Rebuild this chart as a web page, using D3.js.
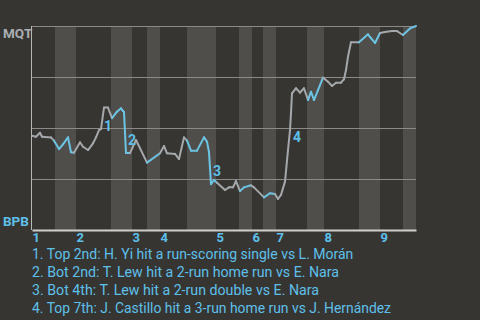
<!DOCTYPE html>
<html><head><meta charset="utf-8">
<script src="https://cdn.jsdelivr.net/npm/d3@7"></script>
<style>
html,body{margin:0;padding:0;background:#373532;}
svg{display:block;}
</style></head>
<body>
<script>
// ---- data ----
const innings = ["1","2","3","4","5","6","7","8","9"];
// start of each half-inning on the play axis (top, bottom, top, bottom, ...)
const halfStarts = [0, 11.5, 22, 39.5, 50, 57.5, 64, 77.5, 92, 103.5, 110, 115.5, 122, 137.5, 146, 163.5, 174, 185.5];
const playsTotal = 192;
// play position and MQT win probability
const playPos = [0,2,4,5,9.5,11,13.5,15.5,18,19.5,21,24,25.5,28,30.5,32,33.5,34.5,36,38,40,42.5,44.5,45.5,46,47,49,52,57.5,64,66,67.5,71.5,73.5,76,77.5,79.5,82.5,86,87.5,88.5,89.5,91,92.5,96.5,98.5,100.5,102,104,106,109.5,111,116,119,121.5,123,124.5,126.5,128,129,129.5,130,132,134,136,138,139.5,141,143,145.5,148,150,152,154.5,156,157,158,159.5,163.5,168,169,171.5,174,176.5,180,182.5,185.5,189,192];
const winProb = [0.462,0.457,0.477,0.457,0.454,0.438,0.397,0.420,0.454,0.381,0.379,0.430,0.408,0.392,0.425,0.454,0.490,0.495,0.600,0.600,0.548,0.580,0.597,0.583,0.578,0.377,0.377,0.441,0.330,0.376,0.412,0.376,0.373,0.348,0.454,0.438,0.389,0.389,0.454,0.433,0.382,0.225,0.245,0.232,0.196,0.209,0.209,0.240,0.191,0.209,0.219,0.209,0.160,0.180,0.176,0.152,0.172,0.237,0.392,0.490,0.574,0.670,0.695,0.673,0.695,0.637,0.678,0.637,0.686,0.747,0.727,0.706,0.722,0.722,0.739,0.784,0.850,0.920,0.920,0.959,0.946,0.917,0.966,0.971,0.975,0.975,0.956,0.988,1.0];
const yTeams = ["MQT","BPB"];
const eventPos = [35.5, 47.5, 90, 130];
const eventLabelWP = [0.485, 0.417, 0.265, 0.431];
const eventNotes = [
  "1. Top 2nd: H. Yi hit a run-scoring single vs L. Morán",
  "2. Bot 2nd: T. Lew hit a 2-run home run vs E. Nara",
  "3. Bot 4th: T. Lew hit a 2-run double vs E. Nara",
  "4. Top 7th: J. Castillo hit a 3-run home run vs J. Hernández"
];
const noteWidths = [320, 307, 287, 359];

// ---- drawing ----
const W = 480, H = 320;
const M = {left: 32, right: 64, top: 26, bottom: 90};
const CYAN = "#5ec0ea", GREYLINE = "#a4a8ab", BAND = "#504e4b", BG = "#373532";
const FONT = "Roboto, 'Noto Sans', sans-serif";

const svg = d3.select("body").append("svg").attr("width", W).attr("height", H)
  .style("background", BG);

const x = d3.scaleLinear().domain([0, playsTotal]).range([M.left, W - M.right]);
const y = d3.scaleLinear().domain([0, 1]).range([H - M.bottom, M.top]);

// half-inning bands (bottom halves shaded)
const halfEnds = halfStarts.slice(1).concat([playsTotal]);
svg.append("g").selectAll("rect")
  .data(halfStarts.map((s, i) => ({s, e: halfEnds[i], i})).filter(d => d.i % 2 === 1))
  .join("rect")
  .attr("x", d => x(d.s)).attr("width", d => x(d.e) - x(d.s))
  .attr("y", y(1)).attr("height", y(0) - y(1))
  .attr("fill", BAND);

// gridlines
svg.append("g").selectAll("line").data([0.25, 0.5, 0.75, 1]).join("line")
  .attr("x1", x(0)).attr("x2", x(playsTotal))
  .attr("y1", d => y(d) + 0.5).attr("y2", d => y(d) + 0.5)
  .attr("stroke", "#8b8a88").attr("stroke-width", 1);

// left axis line
svg.append("line").attr("x1", x(0) - 0.5).attr("x2", x(0) - 0.5)
  .attr("y1", y(1)).attr("y2", y(0))
  .attr("stroke", "#b8b8b6").attr("stroke-width", 1);

// bottom axis with inning labels
const inningStarts = halfStarts.filter((d, i) => i % 2 === 0);
const xAxis = d3.axisBottom(x).tickValues(inningStarts)
  .tickFormat((d, i) => innings[i]).tickSize(0).tickPadding(4);
const gx = svg.append("g").attr("transform", `translate(0,${y(0)})`).call(xAxis);
gx.select(".domain").attr("stroke", "#cfcfcd").attr("stroke-width", 2);
gx.selectAll("text").attr("text-anchor", "start").attr("dy", null).attr("y", 12)
  .attr("fill", CYAN).attr("font-family", FONT).attr("font-weight", "bold").attr("font-size", 13);

// team labels
svg.append("text").attr("x", 3).attr("y", y(1) + 12).text(yTeams[0])
  .attr("fill", "#a9aeb2").attr("font-family", FONT).attr("font-weight", "bold").attr("font-size", 13.5);
svg.append("text").attr("x", 3).attr("y", y(0) - 4).text(yTeams[1])
  .attr("fill", CYAN).attr("font-family", FONT).attr("font-weight", "bold").attr("font-size", 13.5);

// win probability line, coloured by half-inning
const pts = playPos.map((p, i) => ({p, w: winProb[i]}));
const halfOf = u => d3.bisectRight(halfStarts, u) - 1;
const segs = [];
for (let i = 1; i < pts.length; i++) {
  const mid = (pts[i - 1].p + pts[i].p) / 2;
  segs.push({a: pts[i - 1], b: pts[i], bottom: halfOf(mid) % 2 === 1});
}
const lineGen = d3.line().x(d => x(d.p)).y(d => y(d.w));
svg.append("g").selectAll("path").data(segs).join("path")
  .attr("d", d => lineGen([d.a, d.b]))
  .attr("fill", "none")
  .attr("stroke", d => d.bottom ? "#6cc4e4" : GREYLINE)
  .attr("stroke-width", 2).attr("stroke-linecap", "round").attr("stroke-linejoin", "round");

// event labels
svg.append("g").selectAll("text").data(eventPos).join("text")
  .attr("x", d => x(d) + 1).attr("y", (d, i) => y(eventLabelWP[i]))
  .text((d, i) => i + 1)
  .attr("fill", CYAN).attr("font-family", FONT).attr("font-weight", "bold").attr("font-size", 14);

// notes
const notes = svg.append("g").selectAll("text").data(eventNotes).join("text")
  .attr("x", 32).attr("y", (d, i) => 259 + i * 18)
  .text(d => d)
  .attr("fill", CYAN).attr("font-family", FONT).attr("font-size", 14);
notes.each(function(d, i) {
  const len = this.getComputedTextLength();
  if (Math.abs(len - noteWidths[i]) > 2) {
    d3.select(this).attr("textLength", noteWidths[i]).attr("lengthAdjust", "spacingAndGlyphs");
  }
});
</script>
</body></html>
